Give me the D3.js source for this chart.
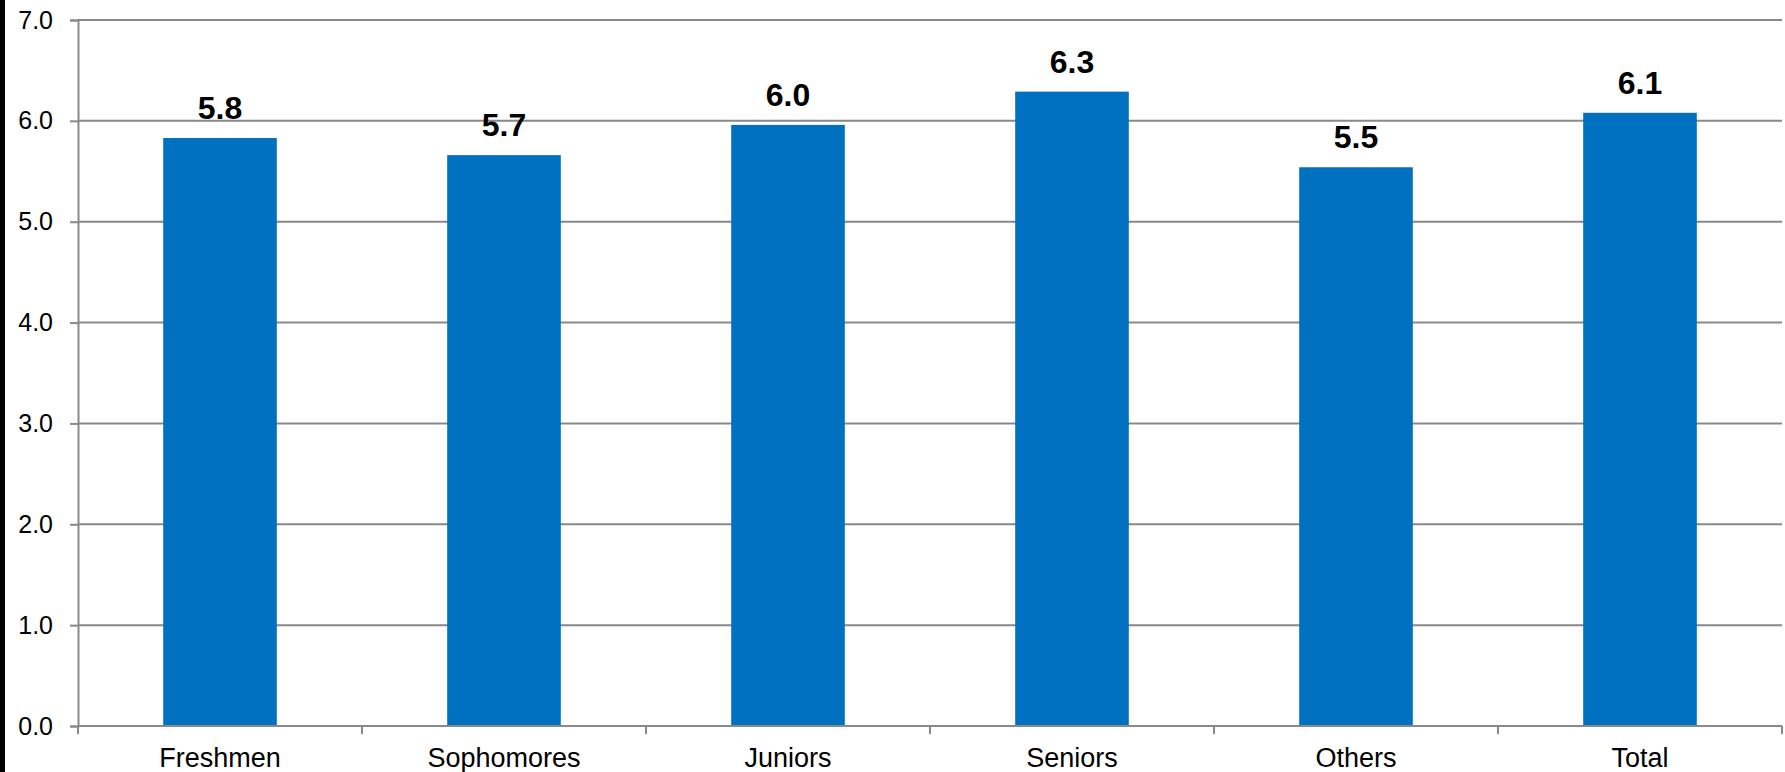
<!DOCTYPE html>
<html>
<head>
	<meta charset="utf-8" />
	<title>Bar chart</title>
	<script src="https://cdn.jsdelivr.net/npm/d3@7"></script>
	<style>
		html, body { margin: 0; padding: 0; background: #fff; }
		svg { display: block; font-family: "Liberation Sans", Arial, sans-serif; }
	</style>
</head>
<body>
<div id="chart"></div>
<script>
	// data
	var categories = ["Freshmen", "Sophomores", "Juniors", "Seniors", "Others", "Total"];
	var values = [5.83, 5.66, 5.96, 6.29, 5.54, 6.08];
	var yTicks = [0, 1, 2, 3, 4, 5, 6, 7];

	var W = 1785, H = 772;
	var margin = {top: 20, right: 3, bottom: 46, left: 78};
	var w = W - margin.left - margin.right,
	    h = H - margin.top - margin.bottom;

	var svg = d3.select("#chart").append("svg")
		.attr("width", W).attr("height", H);

	// black strip on the left edge
	svg.append("rect").attr("x", 0).attr("y", 0)
		.attr("width", 5).attr("height", H).attr("fill", "#000");

	var g = svg.append("g").attr("transform", "translate(" + margin.left + "," + margin.top + ")");

	var x = d3.scaleBand().domain(categories).range([0, w]).paddingInner(0.6).paddingOuter(0.3);
	var xb = d3.scaleLinear().domain([0, categories.length]).range([0, w]);
	var y = d3.scaleLinear().domain([0, 7]).range([h, 0]);

	var grey = "#898989";

	// gridlines
	g.selectAll("line.grid").data(yTicks).enter().append("line")
		.attr("class", "grid")
		.attr("x1", 0).attr("x2", w)
		.attr("y1", function(d){ return y(d); })
		.attr("y2", function(d){ return y(d); })
		.attr("stroke", grey).attr("stroke-width", 2);

	// y axis
	var yAxis = g.append("g")
		.call(d3.axisLeft(y).tickValues(yTicks).tickFormat(d3.format(".1f")).tickSize(8).tickPadding(17));
	yAxis.select(".domain").attr("stroke", grey).attr("stroke-width", 2);
	yAxis.selectAll(".tick line").attr("stroke", grey).attr("stroke-width", 2);
	yAxis.selectAll("text").attr("font-size", 25).attr("fill", "#000").attr("font-family", "Liberation Sans, Arial, sans-serif");

	// category boundary ticks
	g.selectAll("line.xtick").data(d3.range(categories.length + 1)).enter().append("line")
		.attr("class", "xtick")
		.attr("x1", function(d){ return xb(d); })
		.attr("x2", function(d){ return xb(d); })
		.attr("y1", h).attr("y2", h + 8)
		.attr("stroke", grey).attr("stroke-width", 2);

	// bars
	g.selectAll("rect.bar").data(values).enter().append("rect")
		.attr("class", "bar")
		.attr("x", function(d, i){ return x(categories[i]); })
		.attr("width", x.bandwidth())
		.attr("y", function(d){ return y(d); })
		.attr("height", function(d){ return h - y(d); })
		.attr("fill", "#0070C0");

	// value labels
	g.selectAll("text.val").data(values).enter().append("text")
		.attr("class", "val")
		.attr("x", function(d, i){ return x(categories[i]) + x.bandwidth() / 2; })
		.attr("y", function(d){ return y(d) - 19; })
		.attr("text-anchor", "middle")
		.attr("font-size", 32).attr("font-weight", "bold").attr("fill", "#000")
		.text(function(d){ return d3.format(".1f")(d); });

	// category labels
	var xAxis = g.append("g").attr("transform", "translate(0," + h + ")")
		.call(d3.axisBottom(x).tickSize(0).tickPadding(22));
	xAxis.select(".domain").remove();
	xAxis.selectAll("text").attr("font-size", 27).attr("fill", "#000").attr("font-family", "Liberation Sans, Arial, sans-serif");

	// baseline on top of bars
	g.append("line").attr("x1", 0).attr("x2", w).attr("y1", h).attr("y2", h)
		.attr("stroke", grey).attr("stroke-width", 2);
</script>
</body>
</html>
